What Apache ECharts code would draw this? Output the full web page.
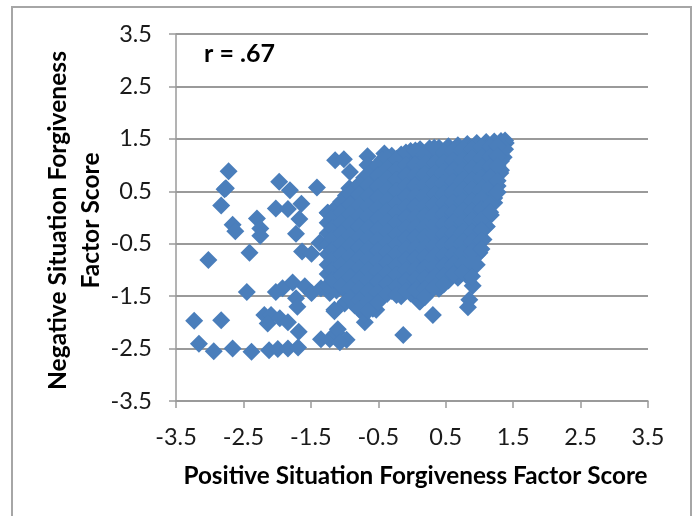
<!DOCTYPE html>
<html>
<head>
<meta charset="utf-8">
<style>html,body{margin:0;padding:0;background:#fff}#c{width:694px;height:516px}</style>
<script src="https://cdn.jsdelivr.net/npm/echarts@6/dist/echarts.min.js"></script>
</head>
<body>
<div id="c"></div>
<script>
const xTitle = "Positive Situation Forgiveness Factor Score";
const yTitle = "Negative Situation Forgiveness\nFactor Score";
const note = "r = .67";
const axisMin = -3.5, axisMax = 3.5, axisStep = 1;

const outliers = [
[-2.72,0.88],[-2.78,0.54],[-2.76,0.56],[-2.83,0.23],[-2.66,-0.14],[-2.62,-0.26],[-2.30,-0.02],[-2.25,-0.21],[-2.25,-0.35],
[-3.02,-0.81],[-2.41,-0.67],[-1.97,0.68],[-1.81,0.52],[-1.41,0.57],[-1.14,1.09],[-2.02,0.17],[-1.84,0.16],[-1.64,0.26],
[-1.67,-0.03],[-1.72,-0.31],[-1.63,-0.65],[-1.49,-0.69],[-2.45,-1.42],[-2.02,-1.42],[-1.92,-1.35],[-1.77,-1.24],[-1.59,-1.31],
[-1.72,-1.54],[-1.49,-1.44],[-1.70,-1.70],[-2.19,-1.86],[-2.09,-1.86],[-2.14,-2.02],[-1.96,-1.92],[-1.84,-2.0],[-1.68,-2.18],
[-3.23,-1.97],[-2.83,-1.96],[-3.16,-2.41],[-2.94,-2.55],[-2.66,-2.50],[-2.38,-2.56],[-2.12,-2.53],[-1.99,-2.51],[-1.84,-2.50],
[-1.69,-2.48],[-1.35,-2.32],[-1.22,-2.32],[-1.12,-2.20],[-1.15,-1.79],[-1.35,-1.35],[-1.22,-1.44],[-1.10,-2.13],[-0.97,-2.33],
[-1.07,-2.38],[-1.01,1.11],[-0.66,1.17],[-0.66,1.0],[-0.92,0.87],[-0.93,0.56],[-0.41,1.22],[-1.25,0.09],[-1.37,-0.48],
[-0.13,-2.24],[0.31,-1.86],[0.11,-1.6],[0.90,-1.3],[0.85,-1.57],[0.83,-1.71],[-1.15,-1.76],[-1.0,-1.64],[-0.70,-2.0],[-0.53,-1.76]
];

const rightEdge = [[1.39,1.42],[1.36,1.15],[1.31,0.85],[1.27,0.6],[1.22,0.28],[1.17,0.05],[1.11,-0.17],[1.06,-0.42],[1.0,-0.67]];

const coreColumns = [
[-1.25,[0.09,-0.1,-0.3,-0.52,-0.7,-0.9,-1.08,-1.3]],
[-1.12,[0.2,0.0,-0.2,-0.41,-0.6,-0.8,-1.01,-1.2,-1.39]],
[-0.98,[0.42,0.2,0.03,-0.18,-0.4,-0.58,-0.79,-1.0,-1.18,-1.41,-1.6]],
[-0.85,[0.55,0.33,0.12,-0.08,-0.3,-0.48,-0.7,-0.9,-1.1,-1.29,-1.5,-1.68]],
[-0.71,[0.76,0.57,0.36,0.15,-0.03,-0.25,-0.45,-0.63,-0.85,-1.04,-1.24,-1.45,-1.66,-1.85]],
[-0.58,[0.9,0.68,0.47,0.28,0.07,-0.14,-0.33,-0.55,-0.74,-0.95,-1.13,-1.35,-1.55,-1.74]],
[-0.44,[1.1,0.88,0.7,0.48,0.3,0.08,-0.1,-0.3,-0.52,-0.7,-0.92,-1.1,-1.3,-1.5]],
[-0.30,[1.18,0.98,0.78,0.6,0.37,0.18,-0.02,-0.2,-0.42,-0.62,-0.8,-1.01,-1.22,-1.4]],
[-0.16,[1.2,1.02,0.82,0.63,0.42,0.22,0.03,-0.18,-0.36,-0.58,-0.78,-0.97,-1.18,-1.36,-1.5]],
[-0.02,[1.27,1.1,0.9,0.7,0.51,0.3,0.1,-0.09,-0.3,-0.48,-0.7,-0.88,-1.1,-1.28,-1.45]],
[0.12,[1.3,1.12,0.93,0.72,0.52,0.33,0.12,-0.08,-0.27,-0.47,-0.68,-0.87,-1.08,-1.26,-1.47,-1.6]],
[0.26,[1.32,1.15,0.95,0.77,0.55,0.35,0.16,-0.04,-0.23,-0.45,-0.63,-0.84,-1.03,-1.25,-1.42]],
[0.40,[1.33,1.14,0.94,0.74,0.56,0.35,0.17,-0.04,-0.24,-0.44,-0.65,-0.83,-1.05,-1.22,-1.36]],
[0.54,[1.36,1.17,0.98,0.78,0.58,0.37,0.19,-0.02,-0.21,-0.41,-0.6,-0.82,-1.0,-1.2]],
[0.68,[1.38,1.2,1.0,0.8,0.6,0.41,0.2,0.01,-0.2,-0.38,-0.6,-0.8,-0.99,-1.15]],
[0.82,[1.4,1.21,1.02,0.83,0.62,0.43,0.23,0.03,-0.17,-0.37,-0.56,-0.78,-0.96,-1.12]],
[0.96,[1.42,1.23,1.03,0.84,0.65,0.44,0.25,0.05,-0.15,-0.35,-0.55,-0.72,-0.9]],
[1.10,[1.44,1.25,1.05,0.86,0.66,0.47,0.27,0.07,-0.17]],
[1.22,[1.45,1.26,1.08,0.88,0.68,0.37]],
[1.32,[1.46,1.28,1.08,0.9]],
[1.38,[1.47,1.3]]
];

const fillColumns = [
[-1.18,[0.0,-0.2,-0.4,-0.62,-0.8,-1.0,-1.19]],
[-1.05,[0.3,0.1,-0.1,-0.3,-0.5,-0.7,-0.9,-1.1,-1.3]],
[-0.92,[0.45,0.25,0.06,-0.13,-0.35,-0.53,-0.75,-0.95,-1.14,-1.35,-1.55]],
[-0.78,[0.64,0.44,0.24,0.03,-0.17,-0.37,-0.57,-0.77,-0.97,-1.17,-1.37,-1.57,-1.75]],
[-0.65,[0.82,0.62,0.41,0.21,0.02,-0.2,-0.4,-0.6,-0.8,-1.0,-1.2,-1.4,-1.6,-1.78]],
[-0.51,[1.0,0.8,0.59,0.38,0.18,-0.02,-0.23,-0.43,-0.63,-0.83,-1.02,-1.22,-1.42,-1.62]],
[-0.37,[1.13,0.93,0.74,0.54,0.33,0.13,-0.07,-0.26,-0.47,-0.66,-0.86,-1.06,-1.26,-1.46]],
[-0.23,[1.12,0.9,0.71,0.5,0.28,0.08,-0.11,-0.31,-0.5,-0.7,-0.9,-1.1,-1.3,-1.48]],
[-0.09,[1.24,1.0,0.8,0.6,0.4,0.2,0.0,-0.2,-0.4,-0.6,-0.8,-1.0,-1.2,-1.4]],
[0.05,[1.28,1.01,0.81,0.61,0.41,0.21,0.01,-0.18,-0.38,-0.58,-0.78,-0.98,-1.18,-1.38]],
[0.19,[1.22,1.03,0.83,0.63,0.42,0.23,0.03,-0.17,-0.37,-0.57,-0.76,-0.96,-1.16,-1.36,-1.52]],
[0.33,[1.33,1.04,0.85,0.65,0.45,0.25,0.06,-0.14,-0.33,-0.54,-0.74,-0.94,-1.14,-1.33]],
[0.47,[1.24,1.05,0.87,0.66,0.46,0.27,0.07,-0.13,-0.32,-0.52,-0.72,-0.92,-1.11,-1.28]],
[0.61,[1.28,1.09,0.89,0.69,0.49,0.29,0.1,-0.1,-0.3,-0.5,-0.7,-0.9,-1.08]],
[0.75,[1.3,1.1,0.91,0.71,0.52,0.32,0.12,-0.08,-0.28,-0.47,-0.67,-0.88,-1.05]],
[0.89,[1.32,1.12,0.93,0.73,0.53,0.33,0.14,-0.06,-0.26,-0.46,-0.65,-0.85,-1.12]],
[1.03,[1.34,1.14,0.95,0.75,0.55,0.36,0.16,-0.04,-0.24,-0.44,-0.6]],
[1.16,[1.35,1.16,0.97,0.77,0.57,0.25,0.1]],
[1.27,[1.37,1.18,0.98,0.7,0.48]]
];

const points = outliers.concat(rightEdge)
  .concat(coreColumns.flatMap(c => c[1].map(y => [c[0], y])))
  .concat(fillColumns.flatMap(c => c[1].map(y => [c[0], y])));
const FONT = "Lato";
const gray = "#9a9a9a";

const axisCommon = {
  type: "value", min: axisMin, max: axisMax, interval: axisStep,
  nameMoveOverlap: false,
  axisLine: {show: true, onZero: false, lineStyle: {color: gray, width: 1.5}},
  axisTick: {show: true, length: 7, lineStyle: {color: gray, width: 1.5}},
  axisLabel: {fontFamily: FONT, fontSize: 23.5, color: "#1a1a1a", formatter: v => v.toFixed(1), hideOverlap: false, showMinLabel: true, showMaxLabel: true}
};

const chart = echarts.init(document.getElementById("c"), null, {renderer: "canvas"});
chart.setOption({
  animation: false,
  backgroundColor: "#fff",
  grid: {left: 176, right: 46, top: 34, bottom: 115},
  xAxis: Object.assign({}, axisCommon, {
    splitLine: {show: false},
    axisLabel: Object.assign({}, axisCommon.axisLabel, {margin: 24}),
    name: xTitle, nameLocation: "middle", nameGap: 63,
    nameTextStyle: {fontFamily: FONT, fontSize: 24.3, fontWeight: "bold", color: "#000", padding: [0,0,0,7]}
  }),
  yAxis: Object.assign({}, axisCommon, {
    splitLine: {show: true, lineStyle: {color: gray, width: 2}},
    axisLabel: Object.assign({}, axisCommon.axisLabel, {margin: 24}),
    name: yTitle, nameLocation: "middle", nameRotate: 90, nameGap: 68,
    nameTextStyle: {fontFamily: FONT, fontSize: 24.6, fontWeight: "bold", color: "#000", lineHeight: 33, padding: [0,6,0,0]}
  }),
  series: [{
    type: "scatter", data: points, symbol: "diamond", symbolSize: 18,
    itemStyle: {color: "#4a7ebb", opacity: 1}, silent: true
  }],
  graphic: [
    {type: "rect", silent: true, z: -1, shape: {x: 12, y: 7, width: 679, height: 530}, style: {fill: "none", stroke: "#a6a6a6", lineWidth: 2}},
    {type: "text", silent: true, x: 204, y: 41, style: {text: note, fontFamily: FONT, fontSize: 25, fontWeight: "bold", fill: "#000"}}
  ]
});
</script>
</body>
</html>
